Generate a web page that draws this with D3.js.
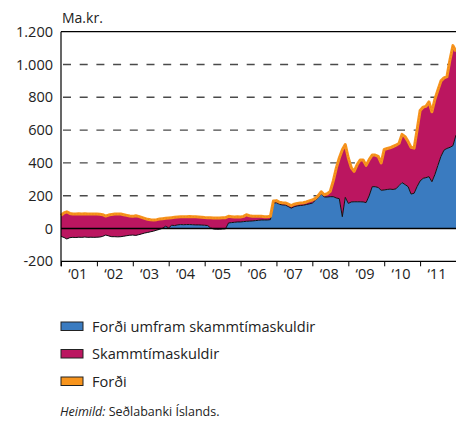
<!DOCTYPE html>
<html>
<head>
<meta charset="utf-8">
<script src="https://cdn.jsdelivr.net/npm/d3@7"></script>
<style>
  html, body { margin: 0; padding: 0; background: #fff; }
  svg { display: block; font-family: "Open Sans", sans-serif; }
</style>
</head>
<body>
<div id="chart"></div>
<script>
// Monthly observations, Jan 2001 .. Jan 2012 (ma.kr.)
const startYear = 2001;
// Forði (reserves)
const reserves = [
  80, 95, 102, 92, 88, 88, 90, 89, 90, 89, 88, 88,
  89, 87, 84, 76, 82, 86, 88, 89, 88, 84, 80, 76,
  74, 78, 74, 68, 62, 56, 53, 52, 54, 58, 60, 62,
  64, 66, 68, 70, 71, 72, 72, 73, 72, 71, 70, 69,
  67, 66, 65, 64, 64, 64, 65, 66, 74, 72, 70, 71,
  70, 74, 84, 78, 75, 74, 74, 74, 72, 72, 74, 168,
  170, 160, 157, 156, 148, 140, 148, 152, 155, 157, 162, 168,
  174, 184, 200, 224, 206, 212, 226, 290, 370, 430, 480, 512,
  430, 370, 348, 390, 418, 418, 385, 420, 448, 448, 440, 400,
  482, 488, 492, 500, 508, 520, 574, 560, 530, 495, 490, 600,
  720, 740, 745, 772, 712, 790, 845, 900, 918, 926, 1030, 1115,
  1080
];
// Forði umfram skammtímaskuldir (reserves in excess of short-term debt)
const netReserves = [
  -48, -55, -64, -56, -54, -55, -53, -54, -52, -54, -53, -54,
  -53, -52, -48, -40, -45, -50, -50, -51, -50, -47, -44, -41,
  -40, -42, -38, -33, -28, -24, -20, -16, -10, -5, 2, 14,
  4, 20, 18, 22, 24, 23, 24, 24, 23, 22, 22, 21,
  20, 18, 4, -3, -4, -4, -3, -2, 34, 36, 38, 40,
  40, 42, 44, 45, 46, 48, 50, 52, 52, 52, 54, 155,
  157, 148, 144, 143, 134, 124, 133, 138, 140, 142, 146, 150,
  155, 172, 190, 212, 192, 192, 194, 194, 186, 182, 72, 190,
  153, 162, 163, 163, 163, 162, 158, 200, 255, 255, 250, 233,
  235, 238, 240, 238, 242, 262, 280, 268, 255, 210, 215, 255,
  290, 306, 310, 316, 285, 330, 385, 440, 478, 488, 495, 505,
  570
];
// Skammtímaskuldir (short-term debt) = reserves - net
const shortTermDebt = reserves.map((r, i) => r - netReserves[i]);

const yTicks = [-200, 0, 200, 400, 600, 800, 1000, 1200];
const gridValues = [200, 400, 600, 800, 1000];
const yearLabels = ["\u201801", "\u201802", "\u201803", "\u201804", "\u201805", "\u201806", "\u201807", "\u201808", "\u201809", "\u201810", "\u201811"];
const legendLabels = ["Forði umfram skammtímaskuldir", "Skammtímaskuldir", "Forði"];
const unitLabel = "Ma.kr.";

const colors = { net: "#3a7bc0", debt: "#bb1660", res: "#f7941d" };

const W = 456, H = 423;
const svg = d3.select("#chart").append("svg").attr("width", W).attr("height", H);

const dates = reserves.map((_, i) => new Date(startYear, i, 1));
const data = dates.map((d, i) => ({ date: d, res: reserves[i], net: netReserves[i], debt: shortTermDebt[i] }));

const x = d3.scaleTime().domain([new Date(2001, 0, 1), new Date(2012, 0, 1)]).range([61, 456]);
const y = d3.scaleLinear().domain([-200, 1200]).range([261.3, 31.7]);

const loc = d3.formatLocale({ decimal: ",", thousands: ".", grouping: [3], currency: ["", ""], minus: "-" });
const fmt = loc.format(",");

// grid
svg.append("g").selectAll("line").data(gridValues).join("line")
  .attr("x1", 63).attr("x2", W).attr("y1", d => y(d)).attr("y2", d => y(d))
  .attr("stroke", "#4a4a4a").attr("stroke-width", 1.4).attr("stroke-dasharray", "8,8.7");

// areas
const areaNet = d3.area().x(d => x(d.date)).y0(y(0)).y1(d => y(d.net));
const areaDebt = d3.area().x(d => x(d.date)).y0(d => y(d.net)).y1(d => y(d.net + d.debt));
svg.append("path").datum(data).attr("d", areaNet).attr("fill", colors.net);
svg.append("path").datum(data).attr("d", areaDebt).attr("fill", colors.debt);

svg.append("path").datum(data)
  .attr("d", d3.line().x(d => x(d.date)).y(d => y(d.net)))
  .attr("fill", "none").attr("stroke", "#111").attr("stroke-width", 1);

// zero line
svg.append("line").attr("x1", 61).attr("x2", W).attr("y1", y(0)).attr("y2", y(0))
  .attr("stroke", "#000").attr("stroke-width", 1.5);

// reserves line
svg.append("path").datum(data)
  .attr("d", d3.line().x(d => x(d.date)).y(d => y(d.res)))
  .attr("fill", "none").attr("stroke", colors.res).attr("stroke-width", 3).attr("stroke-linejoin", "round");
svg.append("path").datum(data)
  .attr("d", d3.line().x(d => x(d.date)).y(d => y(d.res)))
  .attr("fill", "none").attr("stroke", "#e07a10").attr("stroke-width", 1).attr("stroke-dasharray", "1,2").attr("opacity", 0.6);

// top border
svg.append("line").attr("x1", 61).attr("x2", W).attr("y1", y(1200)).attr("y2", y(1200))
  .attr("stroke", "#000").attr("stroke-width", 1.2);

// y axis
const yAxis = d3.axisLeft(y).tickValues(yTicks).tickSize(0).tickPadding(8).tickFormat(fmt);
const gy = svg.append("g").attr("transform", "translate(61,0)").call(yAxis);
gy.select(".domain").remove();
gy.selectAll("text").attr("font-size", 14.5).attr("fill", "#222").attr("font-family", "Open Sans, sans-serif");
svg.append("line").attr("x1", 61).attr("x2", 61).attr("y1", y(1200)).attr("y2", y(-200) + 5)
  .attr("stroke", "#000").attr("stroke-width", 1.2);

// x axis
const yearTicks = d3.range(2001, 2013).map(yr => new Date(yr, 0, 1));
const gx = svg.append("g").attr("transform", `translate(0,${y(-200)})`)
  .call(d3.axisBottom(x).tickValues(yearTicks).tickSize(5).tickFormat(""));
gx.select(".domain").attr("d", `M61,0H${W}`).attr("stroke-width", 1.2);
gx.selectAll(".tick line").attr("stroke-width", 1);

const midYears = d3.range(2001, 2012).map(yr => new Date(yr, 6, 1));
const gxl = svg.append("g").attr("transform", `translate(-1.5,${y(-200)})`)
  .call(d3.axisBottom(x).tickValues(midYears).tickSize(0).tickPadding(7).tickFormat((d, i) => yearLabels[i]));
gxl.select(".domain").remove();
gxl.selectAll("text").attr("font-size", 14.5).attr("fill", "#222").attr("font-family", "Open Sans, sans-serif");

// unit label
svg.append("text").attr("x", 62).attr("y", 23).attr("font-size", 14).attr("fill", "#222").text(unitLabel);

// legend
const legColors = [colors.net, colors.debt, colors.res];
const leg = svg.append("g");
legendLabels.forEach((lab, i) => {
  const ly = 322 + i * 27.5;
  leg.append("rect").attr("x", 61).attr("y", ly).attr("width", 22).attr("height", 8.5)
    .attr("fill", legColors[i]).attr("stroke", "#222").attr("stroke-width", 1);
  leg.append("text").attr("x", 92).attr("y", ly + 9.8).attr("font-size", 14.6).attr("fill", "#222").text(lab);
});

// source
const src = svg.append("text").attr("x", 60).attr("y", 416).attr("font-size", 12.5).attr("fill", "#222");
src.append("tspan").attr("font-style", "italic").text("Heimild:");
src.append("tspan").text(" Seðlabanki Íslands.");
</script>
</body>
</html>
